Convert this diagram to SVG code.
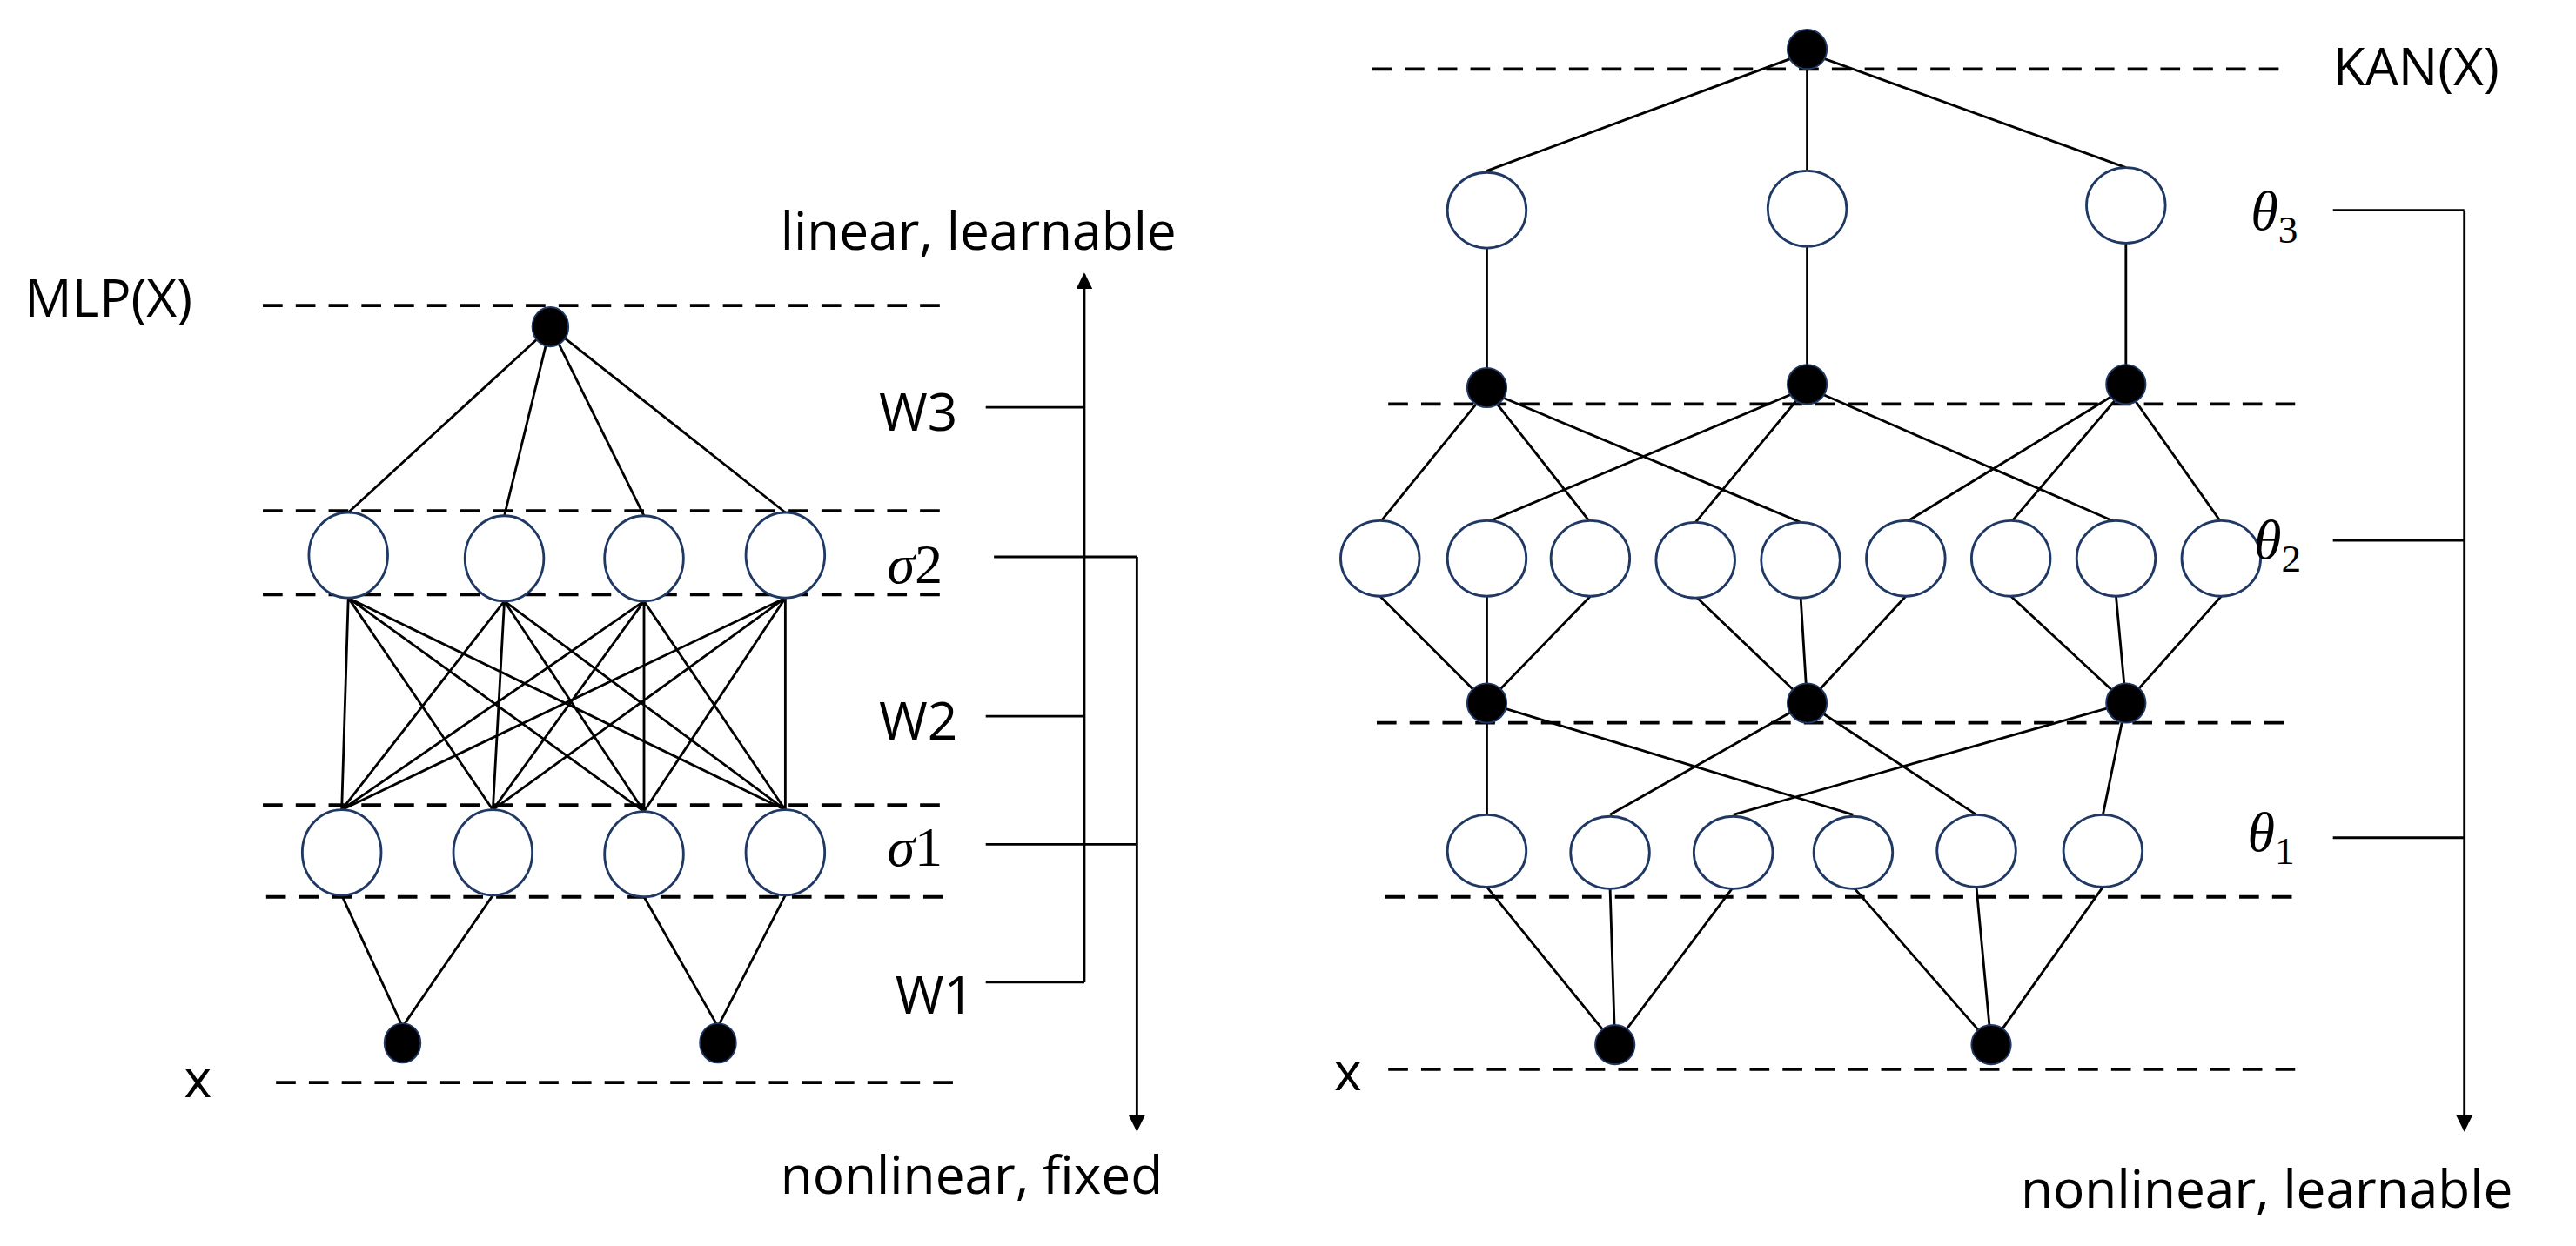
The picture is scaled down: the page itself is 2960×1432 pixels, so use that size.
<svg xmlns="http://www.w3.org/2000/svg" width="2960" height="1432" viewBox="0 0 2960 1432">
<style>
.d{stroke:#000;stroke-width:2;stroke-dasharray:12 8;fill:none}
.e{stroke:#000;stroke-width:1.5;fill:none}
.c{fill:#fff;stroke:#1f3864;stroke-width:1.5}
.b{fill:#000;stroke:#1f3864;stroke-width:1}
.t{font-family:"Open Sans","Liberation Sans",sans-serif;font-size:32px;fill:#000}
.m{font-family:"Liberation Serif",serif;font-style:italic;font-size:34px;fill:#000}
</style>
<defs><marker id="ah" viewBox="0 0 10 10" refX="9" refY="5" markerWidth="10" markerHeight="10" markerUnits="userSpaceOnUse" orient="auto"><path d="M0,0L10,5L0,10z" fill="#000"/></marker></defs>
<rect width="2960" height="1432" fill="#fff"/>
<g transform="scale(1.8878)">
<g id="guides">
<path class="d" d="M160,186H575M160,311H575M160,362H575M160,490H575M162,546H578M168,659H582"/>
<path class="d" d="M835,42H1395M845,246H1400M838,440H1395M843,546H1395M845,651H1400"/>
</g>
<g id="connectors">
<path class="e" d="M335,199L212,312M335,199L307,314M335,199L392,314M335,199L478,312"/>
<path class="e" d="M212,364L208,493M212,364L300,493M212,364L392,494M212,364L478,493M307,366L208,493M307,366L300,493M307,366L392,494M307,366L478,493M392,366L208,493M392,366L300,493M392,366L392,494M392,366L478,493M478,364L208,493M478,364L300,493M478,364L392,494M478,364L478,493"/>
<path class="e" d="M245,625L208,545M245,625L300,545M437,625L392,546M437,625L478,545"/>
<path class="e" d="M1100,32L905,104M1100,32L1100,104M1100,32L1294,102M905,151V236M1100,150V234M1294,148V234"/>
<path class="e" d="M905,238L840,318M905,238L968,318M905,238L1096,318M1100,236L905,318M1100,236L1032,318M1100,236L1288,318M1294,236L1160,318M1294,236L1224,318M1294,236L1352,318"/>
<path class="e" d="M840,363L905,428M905,363L905,428M968,363L905,428M1032,363L1100,428M1096,363L1100,428M1160,363L1100,428M1224,363L1294,428M1288,363L1294,428M1352,363L1294,428"/>
<path class="e" d="M905,428L905,496M905,428L1128,496M1100,428L980,496M1100,428L1203,496M1294,428L1055,496M1294,428L1280,496"/>
<path class="e" d="M905,540L983,636M980,540L983,636M1055,540L983,636M1128,540L1212,636M1203,540L1212,636M1280,540L1212,636"/>
<path class="e" d="M660,598V167" marker-end="url(#ah)"/>
<path class="e" d="M600,248H660M600,436H660M600,598H660"/>
<path class="e" d="M692,339V688" marker-end="url(#ah)"/>
<path class="e" d="M605,339H692M600,514H692"/>
<path class="e" d="M1500,128V688" marker-end="url(#ah)"/>
<path class="e" d="M1420,128H1500M1420,329H1500M1420,510H1500"/>
</g>
<g id="mlp-nodes">
<ellipse class="b" cx="335" cy="199" rx="11" ry="12"/>
<ellipse class="c" cx="212" cy="338" rx="24" ry="26"/><ellipse class="c" cx="307" cy="340" rx="24" ry="26"/><ellipse class="c" cx="392" cy="340" rx="24" ry="26"/><ellipse class="c" cx="478" cy="338" rx="24" ry="26"/>
<ellipse class="c" cx="208" cy="519" rx="24" ry="26"/><ellipse class="c" cx="300" cy="519" rx="24" ry="26"/><ellipse class="c" cx="392" cy="520" rx="24" ry="26"/><ellipse class="c" cx="478" cy="519" rx="24" ry="26"/>
<ellipse class="b" cx="245" cy="635" rx="11" ry="12"/><ellipse class="b" cx="437" cy="635" rx="11" ry="12"/>
</g>
<g id="kan-nodes">
<circle class="b" cx="1100" cy="30" r="12"/>
<ellipse class="c" cx="905" cy="128" rx="24" ry="23"/><ellipse class="c" cx="1100" cy="127" rx="24" ry="23"/><ellipse class="c" cx="1294" cy="125" rx="24" ry="23"/>
<circle class="b" cx="905" cy="236" r="12"/><circle class="b" cx="1100" cy="234" r="12"/><circle class="b" cx="1294" cy="234" r="12"/>
<ellipse class="c" cx="840" cy="340" rx="24" ry="23"/><ellipse class="c" cx="905" cy="340" rx="24" ry="23"/><ellipse class="c" cx="968" cy="340" rx="24" ry="23"/><ellipse class="c" cx="1032" cy="341" rx="24" ry="23"/><ellipse class="c" cx="1096" cy="341" rx="24" ry="23"/><ellipse class="c" cx="1160" cy="340" rx="24" ry="23"/><ellipse class="c" cx="1224" cy="340" rx="24" ry="23"/><ellipse class="c" cx="1288" cy="340" rx="24" ry="23"/><ellipse class="c" cx="1352" cy="340" rx="24" ry="23"/>
<circle class="b" cx="905" cy="428" r="12"/><circle class="b" cx="1100" cy="428" r="12"/><circle class="b" cx="1294" cy="428" r="12"/>
<ellipse class="c" cx="905" cy="518" rx="24" ry="22"/><ellipse class="c" cx="980" cy="519" rx="24" ry="22"/><ellipse class="c" cx="1055" cy="519" rx="24" ry="22"/><ellipse class="c" cx="1128" cy="519" rx="24" ry="22"/><ellipse class="c" cx="1203" cy="518" rx="24" ry="22"/><ellipse class="c" cx="1280" cy="518" rx="24" ry="22"/>
<circle class="b" cx="983" cy="636" r="12"/><circle class="b" cx="1212" cy="636" r="12"/>
</g>
<g id="labels">
<text class="t" x="15" y="193">MLP(X)</text>
<text class="t" x="112" y="668">x</text>
<text class="t" x="475" y="152">linear, learnable</text>
<text class="t" x="535" y="262">W3</text>
<text class="t" x="535" y="450">W2</text>
<text class="t" x="545" y="617">W1</text>
<text class="m" x="540" y="355">σ<tspan font-style="normal">2</tspan></text>
<text class="m" x="540" y="527">σ<tspan font-style="normal">1</tspan></text>
<text class="t" x="475" y="727">nonlinear, fixed</text>
<text class="t" x="1420" y="52">KAN(X)</text>
<text class="t" x="812" y="664">x</text>
<text class="m" x="1370" y="140">θ<tspan font-size="24" dy="8" font-style="normal">3</tspan></text>
<text class="m" x="1372" y="340">θ<tspan font-size="24" dy="8" font-style="normal">2</tspan></text>
<text class="m" x="1368" y="518">θ<tspan font-size="24" dy="8" font-style="normal">1</tspan></text>
<text class="t" x="1230" y="735">nonlinear, learnable</text>
</g>
</g>
</svg>
